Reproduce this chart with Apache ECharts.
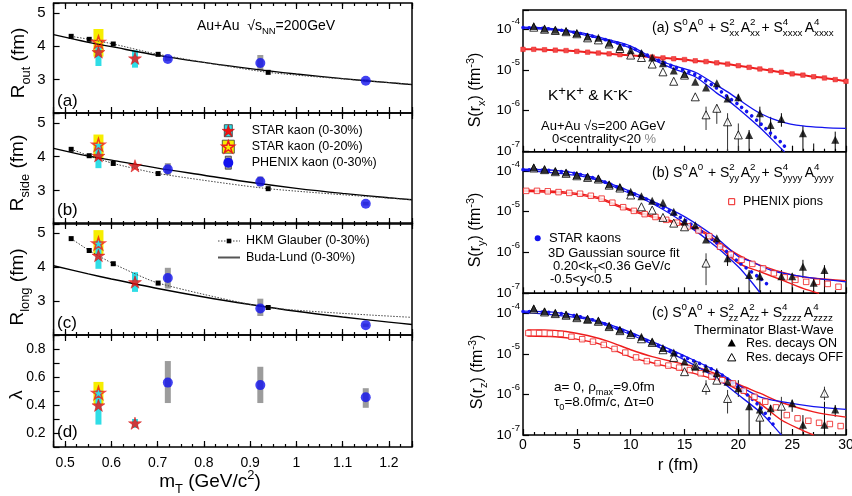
<!DOCTYPE html>
<html>
<head>
<meta charset="utf-8">
<title>Kaon HBT radii and source functions</title>
<script src="https://cdn.jsdelivr.net/npm/echarts@6.0.0/dist/echarts.min.js"></script>
<style>
  html, body { margin: 0; padding: 0; background: #fff; }
  #chart { width: 852px; height: 496px; }
</style>
</head>
<body>
<div id="chart"></div>
<script>
const FONT = '"Liberation Sans", Arial, Helvetica, sans-serif';
const BLUE = '#1212ee', RED = '#ee1c1c', CYAN = '#2fdde6', YELLOW = '#f6ee00', GRAY = '#9c9c9c';
const STAR = 'path://M50 0 L61.23 34.55 L97.55 34.55 L68.17 55.9 L79.39 90.45 L50 69.1 L20.61 90.45 L31.83 55.9 L2.45 34.55 L38.77 34.55 Z';
const STAR_PTS = [[50,0],[61.23,34.55],[97.55,34.55],[68.17,55.9],[79.39,90.45],[50,69.1],[20.61,90.45],[31.83,55.9],[2.45,34.55],[38.77,34.55]];

/* ---------- left: radii and lambda vs mT ---------- */
const mtHkm = [0.513, 0.552, 0.604, 0.701, 0.939, 1.25];
const routHkm = [4.30, 4.21, 4.07, 3.76, 3.22, 2.86];
const rsideHkm = [4.22, 4.03, 3.80, 3.50, 3.05, 2.72];
const rlongHkm = [4.84, 4.49, 4.10, 3.53, 2.81, 2.52];

const mtBuda = [0.475, 0.55, 0.6, 0.7, 0.8, 0.9, 1.0, 1.1, 1.2, 1.25];
const routBuda = [4.35, 4.12, 3.99, 3.73, 3.52, 3.33, 3.17, 3.03, 2.91, 2.85];
const rsideBuda = [4.25, 4.02, 3.90, 3.66, 3.45, 3.24, 3.06, 2.91, 2.78, 2.72];
const rlongBuda = [4.04, 3.80, 3.65, 3.37, 3.12, 2.90, 2.70, 2.53, 2.38, 2.31];

// STAR kaon 0-30% (red star, cyan box)
const mtStar30 = [0.572, 0.651];
const routStar30 = [3.83, 3.64];
const rsideStar30 = [4.03, 3.73];
const rlongStar30 = [4.34, 3.56];
const lamStar30 = [0.398, 0.27];
const routStar30Sys = [[3.41, 3.98], [3.36, 3.88]];
const rsideStar30Sys = [[3.66, 4.39], [3.66, 3.78]];
const rlongStar30Sys = [[3.95, 4.78], [3.27, 3.85]];
const lamStar30Sys = [[0.26, 0.506], [0.237, 0.30]];

// STAR kaon 0-20% (open star, yellow box)
const mtStar20 = [0.572];
const routStar20 = [4.13];
const rsideStar20 = [4.36];
const rlongStar20 = [4.70];
const lamStar20 = [0.486];
const routStar20Sys = [[3.69, 4.52]];
const rsideStar20Sys = [[3.95, 4.66]];
const rlongStar20Sys = [[4.37, 5.09]];
const lamStar20Sys = [[0.405, 0.565]];

// PHENIX kaon 0-30% (blue circle, gray box)
const mtPhx = [0.722, 0.922, 1.15];
const routPhx = [3.62, 3.50, 2.97];
const rsidePhx = [3.63, 3.26, 2.60];
const rlongPhx = [3.68, 2.78, 2.29];
const lamPhx = [0.56, 0.542, 0.455];
const routPhxSys = [[3.56, 3.68], [3.29, 3.74], [2.92, 3.02]];
const rsidePhxSys = [[3.46, 3.81], [3.12, 3.41], [2.55, 2.66]];
const rlongPhxSys = [[3.37, 3.98], [2.56, 3.07], [2.24, 2.34]];
const lamPhxSys = [[0.414, 0.714], [0.414, 0.673], [0.38, 0.52]];

/* ---------- right: source functions, values are log10 S(r) ---------- */
// (a) x direction
const rOnA = [1,2,3,4,5,6,7,8,9,10,11,12,13,14,15,16,17,18,19,20,21,22,23,24,26,29];
const sOnA = [-3.93,-3.99,-4.02,-4.05,-4.10,-4.19,-4.22,-4.34,-4.44,-4.52,-4.59,-4.70,-4.84,-5.02,-5.10,-5.29,-5.43,-5.33,-5.70,-5.67,-6.59,-6.06,-6.35,-6.20,-6.55,-6.71];
const errOnA = [[20,-5.60,-5.77],[21,-6.47,-7],[22,-5.90,-6.39],[23,-6.15,-6.63],[24,-6.06,-6.39],[26,-6.37,-7],[27,-6.80,-7],[29,-6.51,-7]];
const rOffA = [1,2,3,4,5,6,7,8,9,10,11,12,13,14,15,16,17,18,19,20];
const sOffA = [-3.96,-4.01,-4.04,-4.07,-4.12,-4.22,-4.27,-4.37,-4.48,-4.64,-4.70,-4.86,-5.05,-5.28,-5.13,-5.66,-6.10,-5.94,-6.27,-6.59];
const errOffA = [[17,-5.90,-6.47],[18,-5.85,-6.32],[19,-6.06,-7],[20,-6.31,-7]];
const rUpA = [0,2,4,6,8,10,12,14,16,18,19,20,22,24,26,28,30];
const sUpA = [-3.96,-3.98,-4.04,-4.13,-4.27,-4.42,-4.70,-4.90,-5.06,-5.38,-5.54,-5.72,-6.06,-6.27,-6.37,-6.41,-6.43];
const rLoA = [0,4,8,10,12,14,16,18,19,20,22,24,24.3];
const sLoA = [-3.98,-4.06,-4.30,-4.47,-4.74,-4.98,-5.17,-5.57,-5.74,-5.95,-6.41,-6.93,-7.0];
const rDotA = [0,2,4,6,8,10,12,14,16,18,19,20,22,23,24,24.6];
const sDotA = [-3.97,-3.99,-4.05,-4.15,-4.29,-4.45,-4.70,-4.92,-5.12,-5.45,-5.66,-5.85,-6.30,-6.55,-6.78,-6.97];
const rRedA = [0,1,2,3,4,5,6,7,8,9,10,11,12,13,14,15,16,17,18,19,20,21,22,23,24,25,26,27,28,29,30];
const sRedA = [-4.50,-4.50,-4.51,-4.52,-4.53,-4.55,-4.57,-4.59,-4.61,-4.63,-4.65,-4.67,-4.69,-4.71,-4.73,-4.75,-4.78,-4.80,-4.83,-4.86,-4.90,-4.94,-4.98,-5.02,-5.06,-5.10,-5.13,-5.17,-5.20,-5.24,-5.28];

// (b) y direction
const rOnB = [1,2,3,4,5,6,7,8,9,10,11,12,13,14,15,16,17,18,19,21,22,24,25,26,27,28];
const sOnB = [-3.91,-3.96,-4.00,-4.04,-4.10,-4.14,-4.18,-4.33,-4.39,-4.51,-4.62,-4.73,-4.78,-5.00,-5.24,-5.33,-5.68,-5.65,-6.14,-6.55,-6.58,-6.58,-6.58,-6.35,-6.74,-6.43];
const errOnB = [[19,-6.02,-6.33],[21,-6.43,-7],[22,-6.43,-7],[24,-6.43,-7],[25,-6.51,-7],[26,-6.18,-6.63],[27,-6.63,-7],[28,-6.31,-7]];
const rOffB = [1,2,3,4,5,6,7,8,9,10,11,12,13,14,15,17];
const sOffB = [-3.93,-3.97,-4.02,-4.06,-4.12,-4.16,-4.20,-4.35,-4.42,-4.59,-4.88,-4.96,-5.14,-5.28,-5.37,-6.26];
const errOffB = [[17,-6.02,-6.80]];
const rUpB = [0,3,6,9,12,15,18,20,21,23,25,27,30];
const sUpB = [-3.96,-3.99,-4.12,-4.40,-4.74,-5.12,-5.65,-6.10,-6.20,-6.43,-6.55,-6.63,-6.72];
const rLoB = [0,6,9,12,15,18,20,21,22];
const sLoB = [-3.99,-4.16,-4.45,-4.80,-5.28,-5.87,-6.35,-6.65,-6.98];
const rDotB = [0,3,6,9,12,15,18,20,22,23];
const sDotB = [-3.97,-4.00,-4.13,-4.42,-4.76,-5.20,-5.77,-6.23,-6.63,-6.85];
const rRedUpB = [0,4,7,9,11,14,16,17,18,20,22,25,27,30];
const sRedUpB = [-4.47,-4.52,-4.65,-4.86,-5.03,-5.24,-5.40,-5.52,-5.72,-6.06,-6.31,-6.55,-6.63,-6.69];
const rRedLoB = [0,4,7,9,11,14,16,17,18,20,22,24,26,27.5];
const sRedLoB = [-4.50,-4.55,-4.68,-4.89,-5.06,-5.27,-5.43,-5.56,-5.80,-6.26,-6.47,-6.67,-6.88,-7.0];
const rSqB = [0.3,1.3,2.3,3.3,4.3,5.3,6.3,7.3,8.3,9.3,10.3,11.3,12.3,13.3,14.3,15.3,16.3,17.3,18.3,19.3,20.3,21.3,22.3,23.3,24.3,25.3,26.3,27.3,28.3,29.3];
const sSqB = [-4.49,-4.49,-4.50,-4.52,-4.54,-4.56,-4.61,-4.68,-4.78,-4.89,-4.98,-5.06,-5.13,-5.20,-5.27,-5.36,-5.46,-5.60,-5.86,-6.05,-6.18,-6.28,-6.39,-6.51,-6.61,-6.67,-6.72,-6.72,-6.77,-6.84];

// (c) z direction
const rOnC = [1,2,3,4,5,6,7,8,9,10,11,12,13,14,15,16,17,18,19,20,21,22,23,25,26,28,29];
const sOnC = [-3.88,-3.95,-3.99,-4.03,-4.09,-4.14,-4.18,-4.31,-4.41,-4.49,-4.58,-4.70,-4.86,-4.97,-5.19,-5.32,-5.36,-5.47,-5.69,-5.85,-6.29,-6.37,-6.34,-6.22,-6.75,-6.75,-6.37];
const errOnC = [[18,-5.36,-5.60],[20,-5.65,-6.06],[21,-6.01,-7],[22,-6.18,-7],[23,-6.26,-6.52],[25,-6.13,-6.43],[26,-6.51,-7],[28,-6.18,-7],[29,-6.26,-6.55]];
const rOffC = [1,2,3,4,5,6,7,8,9,10,11,12,13,14,15,16,17,18,19,22,24,28];
const sOffC = [-3.90,-3.97,-4.01,-4.05,-4.11,-4.15,-4.20,-4.33,-4.43,-4.52,-4.63,-4.72,-4.90,-5.09,-5.44,-5.28,-5.83,-5.65,-6.10,-6.56,-6.29,-5.97];
const errOffC = [[17,-5.65,-6.01],[19,-5.89,-6.47],[22,-6.43,-7],[24,-6.06,-7],[28,-5.81,-6.14]];
const rUpC = [0,3,6,9,12,15,18,20,22,24,27,30];
const sUpC = [-3.95,-3.98,-4.12,-4.37,-4.70,-5.05,-5.43,-5.77,-6.06,-6.18,-6.30,-6.37];
const rLoC = [0,6,9,12,15,18,20,22,23,24];
const sLoC = [-3.98,-4.15,-4.42,-4.76,-5.15,-5.60,-6.01,-6.43,-6.70,-7.0];
const rDotC = [0,3,6,9,12,15,18,20,22,23.5];
const sDotC = [-3.96,-3.99,-4.13,-4.40,-4.73,-5.08,-5.44,-5.83,-6.30,-6.84];
const rRedUpC = [0.4,2,4,6,8,10,12,14,16,18,20,22,24,27,30];
const sRedUpC = [-4.41,-4.41,-4.45,-4.55,-4.70,-4.90,-5.07,-5.20,-5.32,-5.50,-5.75,-5.97,-6.20,-6.43,-6.56];
const rRedLoC = [0.4,3,5,7,10,12,15,18,20,22,24,26,27];
const sRedLoC = [-4.56,-4.58,-4.64,-4.75,-5.08,-5.22,-5.42,-5.65,-5.89,-6.22,-6.63,-6.89,-7.0];
const rSqC = [0.5,1.5,2.5,3.5,4.5,5.5,6.5,7.5,8.5,9.5,10.5,11.5,12.5,13.5,14.5,15.5,16.5,17.5,18.5,19.5,20.5,21.5,22.5,23.5,24.5,25.5,26.5,27.5,28.5,29.5];
const sSqC = [-4.49,-4.49,-4.50,-4.51,-4.58,-4.64,-4.70,-4.78,-4.88,-4.97,-5.09,-5.18,-5.23,-5.29,-5.34,-5.40,-5.48,-5.56,-5.65,-5.73,-5.91,-6.06,-6.18,-6.32,-6.51,-6.59,-6.65,-6.70,-6.73,-6.78];

/* ---------- helpers ---------- */
const zip = (xs, ys) => xs.map((x, i) => [x, ys[i]]);
const zip3 = (xs, rs) => xs.map((x, i) => [x, rs[i][0], rs[i][1]]);
const grid = [], xAxis = [], yAxis = [], series = [], elements = [];
const tick = { color: '#000', width: 1.2 };
const noLine = { show: false, onZero: false };

function tenthLabel(v) {
  const k = Math.round(v * 10);
  return Math.abs(v * 10 - k) < 1e-6 ? String(k / 10) : '';
}
function radiusLabel(v) { return Number.isInteger(v) && v > 2 ? String(v) : ''; }
function lambdaLabel(v) {
  const k = Math.round(v * 10);
  return Math.abs(v * 10 - k) < 1e-6 && k % 2 === 0 && k >= 2 && k <= 8 ? (k / 10).toFixed(1) : '';
}

function addGrid(left, width, top, height) {
  grid.push({ left, width, top, height, show: true, borderColor: '#000', borderWidth: 1.5,
    backgroundColor: 'transparent', containLabel: false, outerBoundsMode: 'none' });
  return grid.length - 1;
}

function leftAxes(g, ymin, ymax, yint, yFmt, ySize, showX) {
  const base = { type: 'value', gridIndex: g, min: 0.475, max: 1.25, axisLine: noLine, splitLine: { show: false } };
  const xi = xAxis.length;
  ['bottom', 'top'].forEach(pos => {
    xAxis.push(Object.assign({}, base, { position: pos, splitNumber: 8,
      axisTick: { inside: true, length: 6, lineStyle: tick },
      axisLabel: { show: showX && pos === 'bottom', margin: 9, fontSize: 14, color: '#000', fontFamily: FONT, formatter: tenthLabel } }));
    xAxis.push(Object.assign({}, base, { position: pos, interval: 0.025,
      axisTick: { inside: true, length: 3, lineStyle: tick }, axisLabel: { show: false } }));
  });
  const yi = yAxis.length;
  yAxis.push({ type: 'value', gridIndex: g, min: ymin, max: ymax, interval: yint, axisLine: noLine,
    splitLine: { show: false }, axisTick: { inside: true, length: 6, lineStyle: tick },
    axisLabel: { margin: 8, fontSize: ySize, color: '#000', fontFamily: FONT, formatter: yFmt } });
  return { xi, yi };
}

function rightAxes(g, ymax, showX) {
  const xi = xAxis.length;
  xAxis.push({ type: 'value', gridIndex: g, min: 0, max: 30, interval: 5, position: 'bottom', axisLine: noLine,
    splitLine: { show: false }, minorSplitLine: { show: false },
    axisTick: { inside: true, length: 6, lineStyle: tick },
    minorTick: { show: true, splitNumber: 5, length: 3, lineStyle: tick },
    axisLabel: { show: showX, margin: 3, fontSize: 14, color: '#000', fontFamily: FONT } });
  const yi = yAxis.length;
  yAxis.push({ type: 'value', gridIndex: g, min: -7, max: ymax, interval: 1, axisLine: noLine,
    splitLine: { show: false }, axisTick: { inside: true, length: 6, lineStyle: tick },
    axisLabel: { margin: 3, formatter: v => Number.isInteger(v) ? '{b|10}{s|' + v + '}' : '',
      rich: { b: { fontSize: 13.5, lineHeight: 24, color: '#000', fontFamily: FONT },
              s: { fontSize: 9.5, verticalAlign: 'top', color: '#000', fontFamily: FONT } } } });
  return { xi, yi };
}

function lineS(ax, xs, ys, ls, extra) {
  series.push(Object.assign({ type: 'line', xAxisIndex: ax.xi, yAxisIndex: ax.yi, data: zip(xs, ys),
    symbol: 'none', smooth: 0.3, lineStyle: ls, z: 2, silent: true }, extra || {}));
}
function scatterS(ax, xs, ys, symbol, size, itemStyle, z) {
  series.push({ type: 'scatter', xAxisIndex: ax.xi, yAxisIndex: ax.yi, data: zip(xs, ys), symbol,
    symbolSize: size, symbolKeepAspect: true, itemStyle, z: z || 4, silent: true });
}
function boxS(ax, xs, ranges, w, color) {
  series.push({ type: 'custom', xAxisIndex: ax.xi, yAxisIndex: ax.yi, data: zip3(xs, ranges),
    encode: { x: 0, y: [1, 2] }, z: 1, silent: true,
    renderItem: (p, api) => {
      const a = api.coord([api.value(0), api.value(2)]);
      const b = api.coord([api.value(0), api.value(1)]);
      return { type: 'rect', shape: { x: a[0] - w / 2, y: a[1], width: w, height: b[1] - a[1] }, style: { fill: color } };
    } });
}
function barS(ax, rows, color) {
  series.push({ type: 'custom', xAxisIndex: ax.xi, yAxisIndex: ax.yi, data: rows,
    encode: { x: 0, y: [1, 2] }, z: 2, silent: true,
    renderItem: (p, api) => {
      const a = api.coord([api.value(0), api.value(1)]);
      const b = api.coord([api.value(0), api.value(2)]);
      return { type: 'line', shape: { x1: a[0], y1: a[1], x2: b[0], y2: b[1] }, style: { stroke: color, lineWidth: 1 } };
    } });
}

function richSet(size) {
  const ss = Math.round(size * 0.68 * 10) / 10;
  return {
    n: { fontSize: size, lineHeight: Math.round(size * 1.4), fontFamily: FONT, fill: '#000' },
    b: { fontSize: ss, verticalAlign: 'bottom', fontFamily: FONT, fill: '#000' },
    p: { fontSize: ss, verticalAlign: 'top', fontFamily: FONT, fill: '#000' },
    q: { fontSize: ss * 1.25, verticalAlign: 'top', fontFamily: FONT, fill: '#000' },
    g: { fontSize: size, lineHeight: Math.round(size * 1.4), fontFamily: FONT, fill: '#888' }
  };
}
function txt(x, y, str, size, align, rot) {
  elements.push({ type: 'text', x, y, rotation: rot || 0, z: 100, silent: true,
    style: { text: str, fill: '#000', fontSize: size, fontFamily: FONT, textAlign: align || 'left',
      textVerticalAlign: 'middle', rich: richSet(size) } });
}
// stacked super/subscripts: two overlaid rich texts with equal token widths
function stackTitle(x, y, parts, size) {
  const ss = size * 0.7, cw = ss * 0.53;
  const ra = { n: { fontSize: size, lineHeight: 21, fontFamily: FONT, fill: '#000' } };
  const rb = { n: { fontSize: size, lineHeight: 21, fontFamily: FONT, fill: 'rgba(0,0,0,0)' } };
  let a = '', b = '';
  parts.forEach((p, k) => {
    const w = Math.max(p[1].length, p[2].length) * cw + 1;
    ra['u' + k] = { fontSize: ss, width: w, verticalAlign: 'top', fontFamily: FONT, fill: '#000' };
    rb['d' + k] = { fontSize: ss, width: w, verticalAlign: 'bottom', fontFamily: FONT, fill: '#000' };
    a += '{n|' + p[0] + '}{u' + k + '|' + (p[1] || ' ') + '}';
    b += '{n|' + p[0] + '}{d' + k + '|' + (p[2] || ' ') + '}';
  });
  [[a, ra], [b, rb]].forEach(([t, r]) => elements.push({ type: 'text', x, y, z: 100, silent: true,
    style: { text: t, fill: '#000', fontSize: size, fontFamily: FONT, textAlign: 'left', textVerticalAlign: 'middle', rich: r } }));
}
function starIcon(cx, cy, size, style) {
  const pts = STAR_PTS.map(p => [cx + (p[0] - 50) / 100 * size, cy + (p[1] - 45.2) / 100 * size]);
  elements.push({ type: 'polygon', z: 91, silent: true, shape: { points: pts }, style });
}

/* ---------- left panels ---------- */
const leftSets = [
  { hkm: routHkm, buda: routBuda, s30: routStar30, s30sys: routStar30Sys, s20: routStar20, s20sys: routStar20Sys, phx: routPhx, phxSys: routPhxSys },
  { hkm: rsideHkm, buda: rsideBuda, s30: rsideStar30, s30sys: rsideStar30Sys, s20: rsideStar20, s20sys: rsideStar20Sys, phx: rsidePhx, phxSys: rsidePhxSys },
  { hkm: rlongHkm, buda: rlongBuda, s30: rlongStar30, s30sys: rlongStar30Sys, s20: rlongStar20, s20sys: rlongStar20Sys, phx: rlongPhx, phxSys: rlongPhxSys },
  { hkm: null, buda: null, s30: lamStar30, s30sys: lamStar30Sys, s20: lamStar20, s20sys: lamStar20Sys, phx: lamPhx, phxSys: lamPhxSys }
];
const leftLayout = [[3, 110], [113, 111], [223, 112], [335, 112]];
leftSets.forEach((s, i) => {
  const g = addGrid(53.6, 358.4, leftLayout[i][0], leftLayout[i][1]);
  const ax = i < 3 ? leftAxes(g, 2, 5.3, 1, radiusLabel, 15, false)
                   : leftAxes(g, 0.1, 0.9, 0.1, lambdaLabel, 14, true);
  boxS(ax, mtStar20, s.s20sys, 10, YELLOW);
  boxS(ax, mtStar30, s.s30sys, 6, CYAN);
  boxS(ax, mtPhx, s.phxSys, 6, GRAY);
  if (s.buda) lineS(ax, mtBuda, s.buda, { color: '#000', width: 1.4 });
  if (s.hkm) lineS(ax, mtHkm, s.hkm, { color: '#444', width: 1, type: [1.5, 1.5] },
    { symbol: (v, p) => (p.dataIndex < 5 ? 'rect' : 'none'), symbolSize: 5, showSymbol: true,
      showAllSymbol: true, itemStyle: { color: '#000' }, smooth: 0.2 });
  scatterS(ax, mtStar30, s.s30, STAR, 13, { color: '#f21212', borderColor: '#c80000', borderWidth: 0.5 });
  scatterS(ax, mtStar20, s.s20, STAR, 13, { color: 'rgba(0,0,0,0)', borderColor: RED, borderWidth: 1.5 });
  scatterS(ax, mtPhx, s.phx, 'circle', 10, { color: BLUE });
});

/* ---------- right panels ---------- */
const rightSets = [
  { on: [rOnA, sOnA], errOn: errOnA, off: [rOffA, sOffA], errOff: errOffA, up: [rUpA, sUpA], lo: [rLoA, sLoA], dot: [rDotA, sDotA],
    red: [[rRedA, sRedA]], sq: null },
  { on: [rOnB, sOnB], errOn: errOnB, off: [rOffB, sOffB], errOff: errOffB, up: [rUpB, sUpB], lo: [rLoB, sLoB], dot: [rDotB, sDotB],
    red: [[rRedUpB, sRedUpB], [rRedLoB, sRedLoB]], sq: [rSqB, sSqB] },
  { on: [rOnC, sOnC], errOn: errOnC, off: [rOffC, sOffC], errOff: errOffC, up: [rUpC, sUpC], lo: [rLoC, sLoC], dot: [rDotC, sDotC],
    red: [[rRedUpC, sRedUpC], [rRedLoC, sRedLoC]], sq: [rSqC, sSqC] }
];
const rightLayout = [[10, 141.7, -3.54], [151.7, 141.6, -3.53], [293.3, 141.7, -3.51]];
rightSets.forEach((s, i) => {
  const g = addGrid(523, 323, rightLayout[i][0], rightLayout[i][1]);
  const ax = rightAxes(g, rightLayout[i][2], i === 2);
  barS(ax, s.errOff, '#333');
  barS(ax, s.errOn, '#000');
  if (!s.sq) {
    lineS(ax, s.red[0][0], s.red[0][1], { color: RED, width: 2 },
      { symbol: 'rect', symbolSize: 4.5, showSymbol: true, showAllSymbol: true,
        itemStyle: { color: '#f24a4a', borderColor: RED, borderWidth: 0.5 } });
  } else {
    s.red.forEach(r => lineS(ax, r[0], r[1], { color: RED, width: 1.4 }));
  }
  lineS(ax, s.up[0], s.up[1], { color: BLUE, width: 1.3 });
  lineS(ax, s.lo[0], s.lo[1], { color: BLUE, width: 1.3 });
  lineS(ax, s.dot[0], s.dot[1], { color: BLUE, width: 3.6, type: [0.01, 6.4], cap: 'round' });
  if (s.sq) scatterS(ax, s.sq[0], s.sq[1], 'rect', 5.5, { color: '#fff', borderColor: RED, borderWidth: 1 }, 3);
  scatterS(ax, s.off[0], s.off[1], 'triangle', 8, { color: '#fff', borderColor: '#000', borderWidth: 1 }, 4);
  scatterS(ax, s.on[0], s.on[1], 'triangle', 8, { color: '#000' }, 5);
});

/* ---------- texts ---------- */
txt(19, 63, '{n|R}{b|out}{n| (fm)}', 19, 'center', Math.PI / 2);
txt(18, 173, '{n|R}{b|side}{n| (fm)}', 19, 'center', Math.PI / 2);
txt(18, 287, '{n|R}{b|long}{n| (fm)}', 19, 'center', Math.PI / 2);
txt(17, 395, '{n|λ}', 19, 'center', Math.PI / 2);
txt(57, 101, '{n|(a)}', 17);
txt(57, 210, '{n|(b)}', 17);
txt(57, 323, '{n|(c)}', 17);
txt(57, 432, '{n|(d)}', 17);
txt(197, 26, '{n|Au+Au  √s}{b|NN}{n|=200GeV}', 14);
txt(210, 482, '{n|m}{b|T}{n| (GeV/c}{p|2}{n|)}', 19, 'center');

// left legends
elements.push(
  { type: 'rect', z: 90, silent: true, shape: { x: 224.3, y: 124.7, width: 8, height: 12 }, style: { fill: CYAN, stroke: '#333', lineWidth: 0.8 } },
  { type: 'rect', z: 90, silent: true, shape: { x: 222.3, y: 140.2, width: 12, height: 13 }, style: { fill: YELLOW, stroke: '#333', lineWidth: 0.8 } },
  { type: 'rect', z: 90, silent: true, shape: { x: 225.3, y: 156.2, width: 6, height: 13 }, style: { fill: GRAY, stroke: '#333', lineWidth: 0.8 } },
  { type: 'circle', z: 91, silent: true, shape: { cx: 228.3, cy: 162.7, r: 5 }, style: { fill: BLUE } },
  { type: 'line', z: 90, silent: true, shape: { x1: 218, y1: 241, x2: 240, y2: 241 }, style: { stroke: '#444', lineWidth: 1, lineDash: [1.5, 1.5] } },
  { type: 'rect', z: 91, silent: true, shape: { x: 226.7, y: 238.7, width: 4.6, height: 4.6 }, style: { fill: '#000' } },
  { type: 'line', z: 90, silent: true, shape: { x1: 218, y1: 257.5, x2: 240, y2: 257.5 }, style: { stroke: '#555', lineWidth: 2 } }
);
starIcon(228.3, 130.7, 13, { fill: '#f21212', stroke: '#c80000', lineWidth: 0.5 });
starIcon(228.3, 146.7, 13, { fill: 'none', stroke: RED, lineWidth: 1.5 });
txt(251.7, 130.7, '{n|STAR kaon (0-30%)}', 12.5);
txt(251.7, 146.7, '{n|STAR kaon (0-20%)}', 12.5);
txt(251.7, 162.7, '{n|PHENIX kaon (0-30%)}', 12.5);
txt(246, 241, '{n|HKM Glauber (0-30%)}', 12.5);
txt(246, 257.5, '{n|Buda-Lund (0-30%)}', 12.5);

// right texts
txt(476, 90, '{n|S(r}{b|x}{n|) (fm}{p|-3}{n|)}', 16, 'center', Math.PI / 2);
txt(476, 230, '{n|S(r}{b|y}{n|) (fm}{p|-3}{n|)}', 16, 'center', Math.PI / 2);
txt(478, 372, '{n|S(r}{b|z}{n|) (fm}{p|-3}{n|)}', 16, 'center', Math.PI / 2);
stackTitle(652, 28, [['(a) S', '0', ''], ['A', '0', ''], [' + S', '2', 'xx'], ['A', '2', 'xx'], ['+ S', '4', 'xxxx'], ['A', '4', 'xxxx']], 14);
stackTitle(652, 173, [['(b) S', '0', ''], ['A', '0', ''], [' + S', '2', 'yy'], ['A', '2', 'yy'], ['+ S', '4', 'yyyy'], ['A', '4', 'yyyy']], 14);
stackTitle(652, 313, [['(c) S', '0', ''], ['A', '0', ''], [' + S', '2', 'zz'], ['A', '2', 'zz'], ['+ S', '4', 'zzzz'], ['A', '4', 'zzzz']], 14);
txt(548, 96, '{n|K}{q|+}{n|K}{q|+}{n| & K}{q|-}{n|K}{q|-}', 15.5);
txt(541, 126, '{n|Au+Au √s=200 AGeV}', 13);
txt(552, 139, '{n|0<centrality<20 }{g|%}', 13);
txt(549, 238, '{n|STAR kaons}', 13);
txt(548, 253, '{n|3D Gaussian source fit}', 13);
txt(553, 266, '{n|0.20<k}{b|T}{n|<0.36 GeV/c}', 13);
txt(550, 279, '{n|-0.5<y<0.5}', 13);
txt(743, 202, '{n|PHENIX pions}', 12.5);
txt(694, 330, '{n|Therminator Blast-Wave}', 13);
txt(746, 343.5, '{n|Res. decays ON}', 12.5);
txt(746, 357.5, '{n|Res. decays OFF}', 12.5);
txt(554, 387, '{n|a= 0, ρ}{b|max}{n|=9.0fm}', 13.5);
txt(554, 402, '{n|τ}{b|0}{n|=8.0fm/c, Δτ=0}', 13.5);
txt(678, 465, '{n|r (fm)}', 17, 'center');
elements.push(
  { type: 'rect', z: 90, silent: true, shape: { x: 728.7, y: 198.7, width: 6, height: 6 }, style: { fill: '#fff', stroke: RED, lineWidth: 1 } },
  { type: 'circle', z: 90, silent: true, shape: { cx: 537.7, cy: 238.3, r: 3 }, style: { fill: BLUE } },
  { type: 'polygon', z: 90, silent: true, shape: { points: [[731.7, 339], [727.6, 346.4], [735.8, 346.4]] }, style: { fill: '#000' } },
  { type: 'polygon', z: 90, silent: true, shape: { points: [[731.7, 353.5], [727.6, 360.9], [735.8, 360.9]] }, style: { fill: '#fff', stroke: '#000', lineWidth: 1 } }
);

const chart = echarts.init(document.getElementById('chart'), null, { renderer: 'canvas' });
chart.setOption({
  animation: false,
  backgroundColor: '#fff',
  grid, xAxis, yAxis, series,
  graphic: { elements }
});
</script>
</body>
</html>
